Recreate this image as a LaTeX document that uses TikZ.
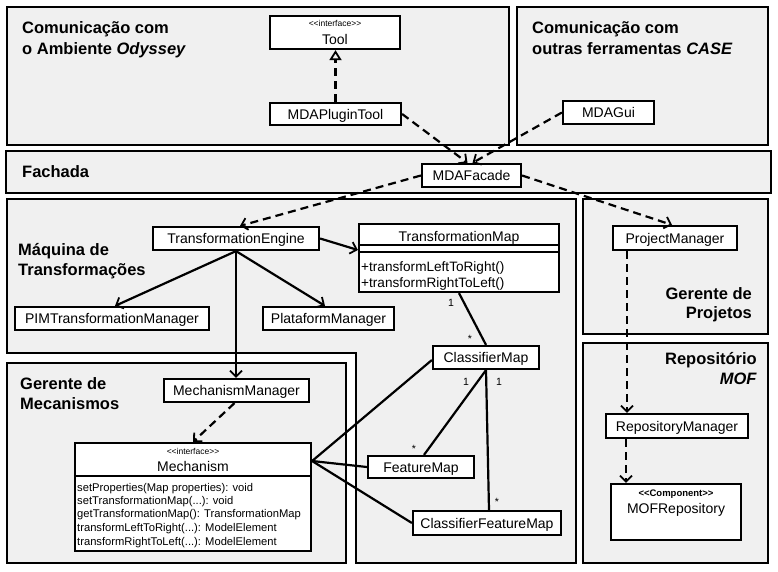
\documentclass[tikz,border=0pt]{standalone}
\usepackage{fontspec}
\setmainfont{Liberation Sans}
\usetikzlibrary{arrows.meta}
\definecolor{panel}{HTML}{F0F0F0}
\newcommand\stlt{<\kern0pt<}
\newcommand\stgt{>\kern0pt>}
\begin{document}
\begin{tikzpicture}[x=1pt,y=-1pt,
  panelst/.style={draw=black, fill=panel, line width=1.2pt},
  title/.style={font=\fontsize{16.5}{20}\selectfont\bfseries, inner sep=0pt, anchor=base west},
  titleR/.style={font=\fontsize{16.5}{20}\selectfont\bfseries, inner sep=0pt, anchor=base east},
  cls/.style={draw=black, fill=white, line width=2.2pt, inner sep=0pt, font=\fontsize{14}{16}\selectfont, text height=10pt, text depth=0pt},
  txt/.style={inner sep=0pt, font=\fontsize{14}{16}\selectfont, text height=10pt, text depth=0pt},
  meth/.style={inner sep=0pt, anchor=west, font=\fontsize{11.2}{13}\selectfont, text height=8pt, text depth=0pt},
  stereo/.style={inner sep=0pt, font=\fontsize{8.5}{10}\selectfont, text height=6pt, text depth=0pt},
  mult/.style={inner sep=0pt, font=\fontsize{10.5}{12}\selectfont},
  dep/.style={line width=2.2pt, dash pattern=on 8pt off 5pt, -{Straight Barb[length=6pt,width=12pt,line width=1.8pt]}},
  real/.style={line width=2.2pt, dash pattern=on 8pt off 5pt, -{Triangle[open,length=10pt,width=12pt,line width=1.8pt]}},
  nav/.style={line width=2.2pt, -{Straight Barb[length=6pt,width=12pt,line width=1.8pt]}},
  assoc/.style={line width=2.2pt}
]
\useasboundingbox (0,0) rectangle (778,571);
\fill[white] (0,0) rectangle (778,571);

% panels
\draw[panelst] (7,7) rectangle (509,145);
\draw[panelst] (517,7) rectangle (768,145);
\draw[panelst] (6,151) rectangle (771,193);
\draw[panelst] (7,199) -- (576,199) -- (576,563) -- (356,563) -- (356,353) -- (7,353) -- cycle;
\draw[panelst] (583,199) rectangle (768,334);
\draw[panelst] (583,343) rectangle (768,563);
\draw[panelst] (7,363) rectangle (346,563);

% panel titles
\node[title] (t1a) at (22,33.5) {Comunicação com};
\node[title] (t1b) at (22,54) {o Ambiente \textit{Odyssey}};
\node[title] (t2a) at (532,33.5) {Comunicação com};
\node[title] (t2b) at (532,54) {outras ferramentas \textit{CASE}};
\node[title] (t3) at (22,177) {Fachada};
\node[title] (t4a) at (18,255) {Máquina de};
\node[title] (t4b) at (18,275) {Transformações};
\node[title] (t5a) at (20,389) {Gerente de};
\node[title] (t5b) at (20,409) {Mecanismos};
\node[titleR] (t6a) at (752,299) {Gerente de};
\node[titleR] (t6b) at (752,318) {Projetos};
\node[titleR] (t7a) at (757,364) {Repositório};
\node[titleR] (t7b) at (757,384) {\textit{MOF}};

% class boxes
\node[cls, minimum width=130pt, minimum height=33pt] (tool) at (335,32.5) {};
\node[stereo] (toolst) at (335,23) {\stlt interface\stgt};
\node[txt] (tooln) at (335,39) {Tool};

\node[cls, minimum width=131pt, minimum height=22pt] (plugin) at (335.5,114) {MDAPluginTool};
\node[cls, minimum width=91pt, minimum height=23pt] (gui) at (608.5,112.5) {MDAGui};
\node[cls, minimum width=99pt, minimum height=23pt] (facade) at (471.5,175.5) {MDAFacade};
\node[cls, minimum width=166pt, minimum height=23pt] (te) at (236,238.5) {TransformationEngine};

\node[cls, minimum width=200pt, minimum height=68pt] (tm) at (459,258) {};
\draw[line width=2.2pt] (tm.north west) ++(0,22) -- ++(200,0);
\draw[line width=2.2pt] (tm.north west) ++(0,29) -- ++(200,0);
\node[txt] (tmn) at (459,236) {TransformationMap};
\node[txt, anchor=west, font=\fontsize{13.6}{16}\selectfont] (tmm1) at (361,266) {+transformLeftToRight()};
\node[txt, anchor=west, font=\fontsize{13.6}{16}\selectfont] (tmm2) at (361,282) {+transformRightToLeft()};

\node[cls, minimum width=194pt, minimum height=23pt] (pim) at (112,318.5) {PIMTransformationManager};
\node[cls, minimum width=131pt, minimum height=23pt] (plat) at (328.5,318.5) {PlataformManager};
\node[cls, minimum width=106pt, minimum height=23pt] (cm) at (486,357.5) {ClassifierMap};
\node[cls, minimum width=145pt, minimum height=23pt] (mm) at (236.5,390.5) {MechanismManager};

\node[cls, minimum width=236pt, minimum height=108pt] (mech) at (193,497) {};
\draw[line width=2.2pt] (mech.north west) ++(0,34) -- ++(236,0);
\node[stereo] (mechst) at (193,451) {\stlt interface\stgt};
\node[txt] (mechn) at (193,466) {Mechanism};
\node[meth] (m1) at (77,487) {setProperties(Map properties): void};
\node[meth] (m2) at (77,500) {setTransformationMap(...): void};
\node[meth] (m3) at (77,513.5) {getTransformationMap(): TransformationMap};
\node[meth] (m4) at (77,527) {transformLeftToRight(...): ModelElement};
\node[meth] (m5) at (77,541) {transformRightToLeft(...): ModelElement};

\node[cls, minimum width=106pt, minimum height=22pt] (fm) at (421,467) {FeatureMap};
\node[cls, minimum width=148pt, minimum height=24pt] (cfm) at (487,523) {ClassifierFeatureMap};
\node[cls, minimum width=124pt, minimum height=24pt] (pm) at (675,238) {ProjectManager};
\node[cls, minimum width=142pt, minimum height=24pt] (rm) at (677,426) {RepositoryManager};
\node[cls, minimum width=130pt, minimum height=56pt] (mof) at (676,512) {};
\node[stereo, font=\fontsize{9.5}{11}\selectfont\bfseries] (mofst) at (676,493) {\stlt Component\stgt};
\node[txt] (mofn) at (676,508) {MOFRepository};

% connectors
\draw[real] (plugin.north) -- (plugin.north |- tool.south);
\draw[dep] (plugin.east) -- ([xshift=-4pt]facade.north);
\draw[dep] (gui.west) -- ([xshift=1pt]facade.north);
\draw[dep] (facade.west) -- ([xshift=4pt]te.north);
\draw[dep] (facade.east) -- ([xshift=-3pt]pm.north);
\draw[dep] ([xshift=-48pt]pm.south) -- ([xshift=-48pt]pm.south |- rm.north);
\draw[dep] ([xshift=-51pt]rm.south) -- ([xshift=-51pt]rm.south |- mof.north);
\draw[nav] (te.south) -- ([xshift=3pt]pim.north);
\draw[nav] (te.south) -- ([xshift=-3.5pt]plat.north);
\draw[nav] (te.south) -- (te.south |- mm.north);
\draw[nav] (te.east) -- ([yshift=8pt]tm.west);
\draw[dep] ([xshift=-2pt]mm.south) -- (mech.north);
\draw[assoc] (tm.south) -- (cm.north);
\draw[assoc] (cm.south) -- ([xshift=3pt]fm.north);
\draw[assoc] (cm.south) -- ([xshift=2pt]cfm.north);
\draw[assoc] ([yshift=-2.5pt]cm.west) -- ([yshift=36pt]mech.east);
\draw[assoc] ([yshift=36pt]mech.east) -- (fm.west);
\draw[assoc] ([yshift=36pt]mech.east) -- (cfm.west);

% multiplicities
\node[mult] (mu1) at (451,303) {1};
\node[mult] (mu2) at (470,339) {*};
\node[mult] (mu3) at (466,382) {1};
\node[mult] (mu4) at (499,382) {1};
\node[mult] (mu5) at (414,449) {*};
\node[mult] (mu6) at (497,502) {*};
\end{tikzpicture}
\end{document}
